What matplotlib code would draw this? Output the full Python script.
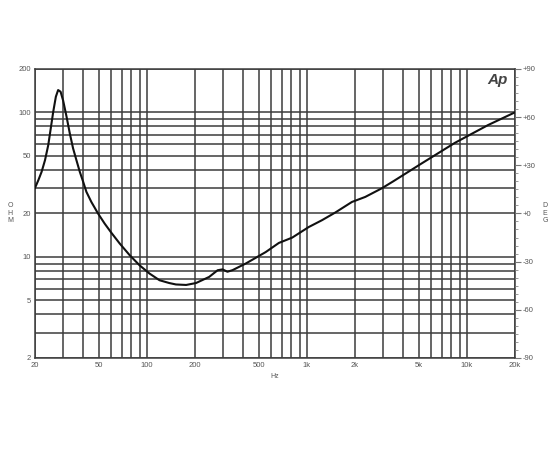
import numpy as np
import matplotlib
matplotlib.use("Agg")
import matplotlib.pyplot as plt
from matplotlib.ticker import FixedLocator, LogLocator, NullFormatter, MultipleLocator

# Impedance curve (Hz, ohm)
freq_hz = [20, 21.0, 22.0, 23.1, 24.2, 25.0, 26.0, 27.0, 27.9, 28.9, 30.0, 31.5, 33.0,
           34.6, 36.3, 38.1, 40.0, 41.9, 45.0, 49.5, 54.5, 60.0, 67.6, 78.0, 90.0,
           104, 120, 138, 152, 176, 203, 245, 277, 297, 319, 343, 415, 553, 669, 810,
           1028, 1244, 1508, 1914, 2318, 2938, 3478, 5216, 8418, 13560, 20000]
impedance_ohm = [30.0, 34.0, 38.8, 46.7, 59.3, 75.4, 100.9, 128.2, 142.6, 138.9, 120.3,
                 93.2, 71.5, 56.3, 46.7, 38.8, 33.1, 28.2, 24.0, 20.0, 17.0, 14.7, 12.4,
                 10.3, 8.76, 7.67, 6.9, 6.6, 6.45, 6.4, 6.6, 7.27, 8.09, 8.2, 7.9, 8.1,
                 9.0, 10.8, 12.5, 13.6, 16.1, 17.95, 20.3, 24.0, 26.0, 29.8, 33.4, 44.3,
                 61.5, 81.6, 100]

x_ticks = [20, 50, 100, 200, 500, 1000, 2000, 5000, 10000, 20000]
x_labels = ["20", "50", "100", "200", "500", "1k", "2k", "5k", "10k", "20k"]
y_ticks = [2, 5, 10, 20, 50, 100, 200]
y_labels = ["2", "5", "10", "20", "50", "100", "200"]
deg_ticks = [-90, -60, -30, 0, 30, 60, 90]
deg_labels = ["-90", "-60", "-30", "+0", "+30", "+60", "+90"]

plt.rcParams['font.family'] = ['Liberation Sans', 'DejaVu Sans']
TXT = '#555555'
GRID = '#3c3c3c'

fig = plt.figure(figsize=(5.5, 4.5), dpi=100)
ax = fig.add_axes([35/550, 1-358/450, 480/550, (358-68.8)/450])
ax.set_xscale('log')
ax.set_yscale('log')
ax.set_xlim(20, 20000)
ax.set_ylim(2, 200)

ax.xaxis.set_major_locator(FixedLocator(x_ticks))
ax.set_xticklabels(x_labels)
ax.xaxis.set_minor_locator(LogLocator(base=10, subs=np.arange(1, 10), numticks=100))
ax.xaxis.set_minor_formatter(NullFormatter())
ax.yaxis.set_major_locator(FixedLocator(y_ticks))
ax.set_yticklabels(y_labels)
ax.yaxis.set_minor_locator(LogLocator(base=10, subs=np.arange(1, 10), numticks=100))
ax.yaxis.set_minor_formatter(NullFormatter())

ax.grid(which='both', color=GRID, lw=1.1)
ax.tick_params(which='both', length=0, labelsize=5.5, labelcolor=TXT, pad=3)
for s in ax.spines.values():
    s.set_color(GRID)
    s.set_linewidth(1.1)

ax.plot(freq_hz, impedance_ohm, color='#111111', lw=1.5, zorder=5,
        solid_joinstyle='round')

ax2 = ax.twinx()
ax2.set_ylim(-90, 90)
ax2.yaxis.set_major_locator(FixedLocator(deg_ticks))
ax2.set_yticklabels(deg_labels)
ax2.yaxis.set_minor_locator(MultipleLocator(5))
ax2.tick_params(which='major', length=4, width=0.8, color='#777777', labelsize=5.5,
                labelcolor=TXT, pad=1.5)
ax2.tick_params(which='minor', length=2.5, width=0.6, color='#888888')
for s in ax2.spines.values():
    s.set_visible(False)

ax.text(0.985, 0.985, "Ap", transform=ax.transAxes, ha='right', va='top',
        fontsize=11, fontweight='bold', style='italic', color='#444444', zorder=6,
        family='Liberation Sans')

fig.text(275/550, 1-376/450, "Hz", ha='center', va='center', fontsize=5, color=TXT)
fig.text(10/550, 1-213/450, "O\nH\nM", ha='center', va='center', fontsize=5,
         color=TXT, linespacing=1.1)
fig.text(545/550, 1-213/450, "D\nE\nG", ha='center', va='center', fontsize=5,
         color=TXT, linespacing=1.1)

fig.savefig("out.png", dpi=100, facecolor='white')
